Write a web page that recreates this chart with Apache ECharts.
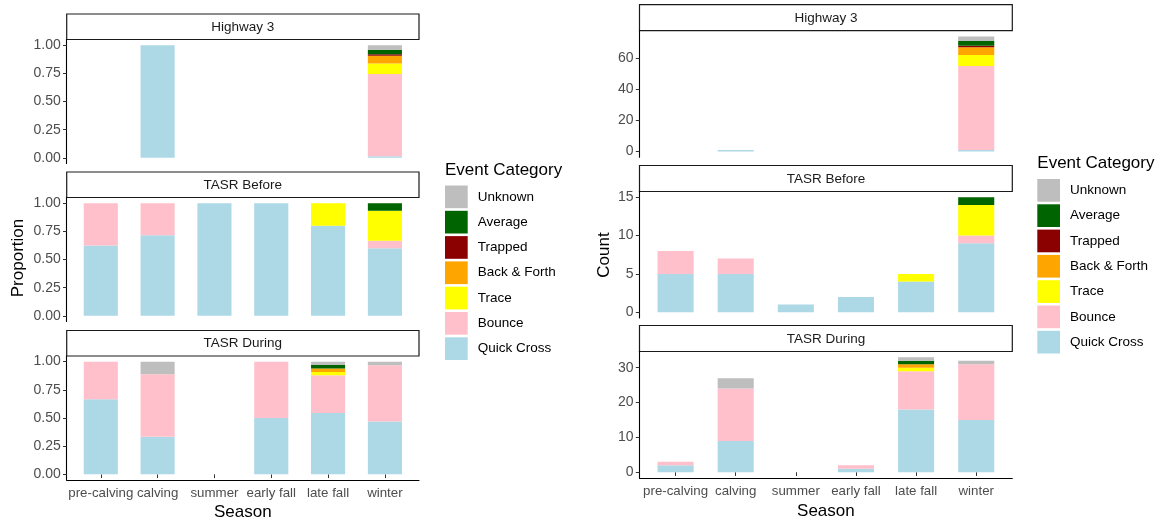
<!DOCTYPE html>
<html>
<head>
<meta charset="utf-8">
<title>Crossing events by season</title>
<script src="https://cdn.jsdelivr.net/npm/echarts@6/dist/echarts.min.js"></script>
<style>
  html, body { margin: 0; padding: 0; background: #ffffff; }
  #chart { width: 1164px; height: 523px; }
</style>
</head>
<body>
<div id="chart"></div>
<script>
// Seasons on the x axis and the three site/period facets
const seasons = ['pre-calving', 'calving', 'summer', 'early fall', 'late fall', 'winter'];
const facets = ['Highway 3', 'TASR Before', 'TASR During'];

// Event counts per category; rows = facets (Highway 3, TASR Before, TASR During), columns = seasons
const quickCross = [[0, 1, 0, 0, 0, 1], [5, 5, 1, 2, 4, 9], [2, 9, 0, 1, 18, 15]];
const bounce     = [[0, 0, 0, 0, 0, 54], [3, 2, 0, 0, 0, 1], [1, 15, 0, 1, 11, 16]];
const trace      = [[0, 0, 0, 0, 0, 7], [0, 0, 0, 0, 1, 4], [0, 0, 0, 0, 1, 0]];
const backForth  = [[0, 0, 0, 0, 0, 5], [0, 0, 0, 0, 0, 0], [0, 0, 0, 0, 1, 0]];
const trapped    = [[0, 0, 0, 0, 0, 1], [0, 0, 0, 0, 0, 0], [0, 0, 0, 0, 0, 0]];
const average    = [[0, 0, 0, 0, 0, 3], [0, 0, 0, 0, 0, 1], [0, 0, 0, 0, 1, 0]];
const unknown    = [[0, 0, 0, 0, 0, 3], [0, 0, 0, 0, 0, 0], [0, 3, 0, 0, 1, 1]];

// Stacking order, bottom to top
const categories = ['Quick Cross', 'Bounce', 'Trace', 'Back & Forth', 'Trapped', 'Average', 'Unknown'];
const counts = [quickCross, bounce, trace, backForth, trapped, average, unknown];

// Tick labels
const proportionTicks = [0, 0.25, 0.5, 0.75, 1];
const countTicks = [[0, 20, 40, 60], [0, 5, 10, 15], [0, 10, 20, 30]];

// Fill colours per category (same order as categories)
const palette = ['#ADD8E6', '#FFC0CB', '#FFFF00', '#FFA500', '#8B0000', '#006400', '#BEBEBE'];

const FONT = '"Liberation Sans", Arial, "DejaVu Sans", sans-serif';

// Panel geometry for the two halves
const sides = [
  { kind: 'proportion', yTitle: 'Proportion', x0: 66.7, x1: 419, stripTops: [14, 172, 330.5], stripH: 25.5, panelH: 124,
    legendX: 445, legendTop: 185.5, legendTitleY: 170, yTitleX: 18.5, yTitleY: 258, xTitleY: 512 },
  { kind: 'count', yTitle: 'Count', x0: 639.5, x1: 1012.3, stripTops: [4.7, 165.5, 325.5], stripH: 26, panelH: 126.5,
    legendX: 1037.3, legendTop: 179, legendTitleY: 163.3, yTitleX: 604, yTitleY: 255, xTitleY: 511.7 }
];

const grids = [], xAxes = [], yAxes = [], series = [], graphics = [], legends = [];

sides.forEach((side, s) => {
  const panelW = side.x1 - side.x0;
  const unit = panelW / (seasons.length + 0.2); // discrete scale padded 0.6 on each side
  facets.forEach((facet, f) => {
    const top = side.stripTops[f] + side.stripH;
    const isBottom = f === facets.length - 1;
    const totals = seasons.map((_, i) => counts.reduce((acc, arr) => acc + arr[f][i], 0));
    const maxTotal = Math.max(...totals);
    const yMax = side.kind === 'proportion' ? 1 : maxTotal;
    const yMin = -0.05 * yMax, yTop = 1.05 * yMax;
    const ticks = side.kind === 'proportion' ? proportionTicks : countTicks[f];

    // Frame grid: carries the y axis and (bottom facet) the x axis line across the full panel width
    const frameIdx = grids.length;
    grids.push({ left: side.x0, top: top, width: panelW, height: side.panelH, containLabel: false });
    xAxes.push({
      gridIndex: frameIdx, type: 'value', min: 0, max: 1,
      axisLine: { show: isBottom, onZero: false, lineStyle: { color: '#000000', width: 1.1 } },
      axisTick: { show: false }, axisLabel: { show: false }, splitLine: { show: false }
    });
    yAxes.push({
      gridIndex: frameIdx, type: 'value', min: yMin, max: yTop,
      axisLine: { show: true, onZero: false, lineStyle: { color: '#000000', width: 1.1 } },
      axisTick: { show: true, length: 3.7, customValues: ticks, lineStyle: { color: '#333333', width: 1 } },
      axisLabel: {
        show: true, customValues: ticks, margin: 6, color: '#4d4d4d', fontSize: 14, fontFamily: FONT,
        formatter: v => side.kind === 'proportion' ? Number(v).toFixed(2) : String(Math.round(v))
      },
      splitLine: { show: false }
    });

    // Data grid: category band layout matching the padded discrete scale
    const dataIdx = grids.length;
    grids.push({ left: side.x0 + 0.1 * unit, top: top, width: seasons.length * unit, height: side.panelH, containLabel: false });
    xAxes.push({
      gridIndex: dataIdx, type: 'category', data: seasons, boundaryGap: true,
      axisLine: { show: false },
      axisTick: { show: isBottom, alignWithLabel: true, length: 3.7, lineStyle: { color: '#333333', width: 1 } },
      axisLabel: { show: isBottom, interval: 0, margin: 7, color: '#4d4d4d', fontSize: 13.3, fontFamily: FONT },
      splitLine: { show: false }
    });
    yAxes.push({ gridIndex: dataIdx, type: 'value', min: yMin, max: yTop, show: false, splitLine: { show: false } });

    counts.forEach((arr, c) => {
      const vals = arr[f].map((v, i) => side.kind === 'proportion' ? (totals[i] ? v / totals[i] : 0) : v);
      series.push({
        type: 'bar', name: categories[c], xAxisIndex: dataIdx, yAxisIndex: dataIdx,
        stack: 'side' + s + 'facet' + f, barWidth: '60%', data: vals,
        itemStyle: { color: palette[c] }, silent: true
      });
    });

    // Facet strip
    graphics.push({
      type: 'rect', silent: true,
      shape: { x: side.x0, y: side.stripTops[f], width: panelW, height: side.stripH },
      style: { fill: '#ffffff', stroke: '#1a1a1a', lineWidth: 1.2 }
    });
    graphics.push({
      type: 'text', silent: true, x: side.x0 + panelW / 2, y: side.stripTops[f] + side.stripH / 2 + 0.5,
      style: { text: facet, align: 'center', verticalAlign: 'middle', fill: '#1a1a1a', fontSize: 13.5, fontFamily: FONT }
    });
  });

  // Axis titles
  graphics.push({
    type: 'text', silent: true, x: side.yTitleX, y: side.yTitleY, rotation: Math.PI / 2,
    style: { text: side.yTitle, align: 'center', verticalAlign: 'middle', fill: '#000000', fontSize: 17, fontFamily: FONT }
  });
  graphics.push({
    type: 'text', silent: true, x: (side.x0 + side.x1) / 2, y: side.xTitleY,
    style: { text: 'Season', align: 'center', verticalAlign: 'middle', fill: '#000000', fontSize: 17, fontFamily: FONT }
  });
  // Legend title
  graphics.push({
    type: 'text', silent: true, x: side.legendX, y: side.legendTitleY,
    style: { text: 'Event Category', align: 'left', verticalAlign: 'middle', fill: '#000000', fontSize: 17, fontFamily: FONT }
  });

  legends.push({
    orient: 'vertical', left: side.legendX, top: side.legendTop, padding: 0,
    itemWidth: 22.7, itemHeight: 22.7, itemGap: 2.6, icon: 'rect', selectedMode: false,
    data: categories.slice().reverse(),
    textStyle: { color: '#000000', fontSize: 13.5, fontFamily: FONT, padding: [0, 0, 0, 5] }
  });
});

const chart = echarts.init(document.getElementById('chart'), null, { renderer: 'canvas' });
chart.setOption({
  backgroundColor: '#ffffff',
  animation: false,
  textStyle: { fontFamily: FONT },
  grid: grids,
  xAxis: xAxes,
  yAxis: yAxes,
  legend: legends,
  series: series,
  graphic: graphics
});
</script>
</body>
</html>
